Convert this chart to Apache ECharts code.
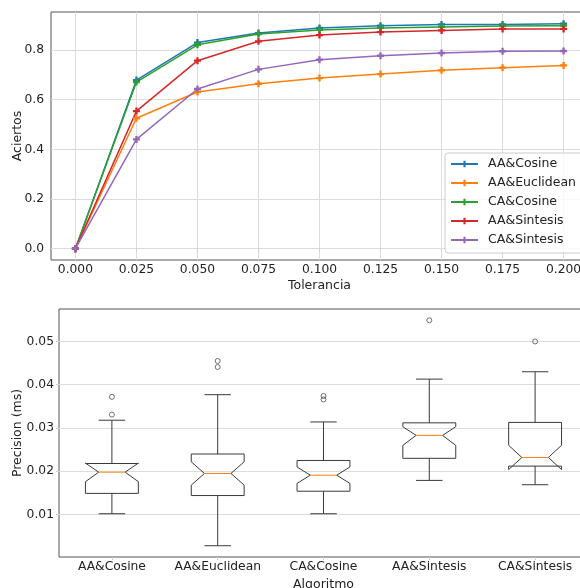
<!DOCTYPE html>
<html>
<head>
<meta charset="utf-8">
<script src="https://cdn.jsdelivr.net/npm/echarts@6/dist/echarts.min.js"></script>
<style>
  html, body { margin: 0; padding: 0; background: #fff; }
  #chart { width: 580px; height: 588px; }
</style>
</head>
<body>
<div id="chart"></div>
<script>
// top panel: hit rate vs tolerance
let tolerance = [0, 0.025, 0.05, 0.075, 0.1, 0.125, 0.15, 0.175, 0.2];
let aaCosine    = [0, 0.679, 0.830, 0.868, 0.889, 0.898, 0.903, 0.903, 0.906];
let aaEuclidean = [0, 0.525, 0.631, 0.664, 0.687, 0.703, 0.718, 0.729, 0.738];
let caCosine    = [0, 0.671, 0.821, 0.864, 0.881, 0.889, 0.893, 0.897, 0.898];
let aaSintesis  = [0, 0.554, 0.757, 0.835, 0.860, 0.872, 0.879, 0.885, 0.885];
let caSintesis  = [0, 0.440, 0.643, 0.722, 0.761, 0.777, 0.788, 0.795, 0.796];
let lineNames = ['AA&Cosine', 'AA&Euclidean', 'CA&Cosine', 'AA&Sintesis', 'CA&Sintesis'];
let xTicks = [0, 0.025, 0.05, 0.075, 0.1, 0.125, 0.15, 0.175, 0.2];
let yTicks = [0, 0.2, 0.4, 0.6, 0.8];

// bottom panel: notched boxplots
let algorithms  = ['AA&Cosine', 'AA&Euclidean', 'CA&Cosine', 'AA&Sintesis', 'CA&Sintesis'];
let whiskerLow  = [0.0102, 0.0028, 0.0102, 0.0179, 0.0169];
let q1          = [0.0149, 0.0144, 0.0154, 0.0230, 0.0212];
let notchLow    = [0.0176, 0.0168, 0.0172, 0.0260, 0.0204];
let median      = [0.0198, 0.0195, 0.0191, 0.0283, 0.0232];
let notchHigh   = [0.0219, 0.0222, 0.0210, 0.0303, 0.0260];
let q3          = [0.0218, 0.0240, 0.0225, 0.0312, 0.0313];
let whiskerHigh = [0.0318, 0.0377, 0.0314, 0.0413, 0.0430];
let outliers = [
    ['AA&Cosine', 0.0372], ['AA&Cosine', 0.0331],
    ['AA&Euclidean', 0.0455], ['AA&Euclidean', 0.0441],
    ['CA&Cosine', 0.0374], ['CA&Cosine', 0.0366],
    ['AA&Sintesis', 0.0549],
    ['CA&Sintesis', 0.0500]
];
let precTicks = [0.01, 0.02, 0.03, 0.04, 0.05];

let colors = ['#1f77b4', '#ff7f0e', '#2ca02c', '#d62728', '#9467bd'];
let lineData = [aaCosine, aaEuclidean, caCosine, aaSintesis, caSintesis];
let font = 'DejaVu Sans';
let plusPath = 'path://M1,0H2V1H3V2H2V3H1V2H0V1H1Z';

let myChart = echarts.init(document.getElementById('chart'));

let lineSeries = lineNames.map(function (name, k) {
    return {
        name: name,
        type: 'line',
        xAxisIndex: 0,
        yAxisIndex: 0,
        data: tolerance.map(function (t, i) { return [t, lineData[k][i]]; }),
        symbol: plusPath,
        symbolSize: 7,
        color: colors[k],
        lineStyle: { width: 1.5 },
        emphasis: { disabled: true },
        animation: false
    };
});

let boxData = algorithms.map(function (a, i) {
    return [i, whiskerLow[i], q1[i], notchLow[i], median[i], notchHigh[i], q3[i], whiskerHigh[i]];
});

function renderBox(params, api) {
    let i = api.value(0);
    let band = api.size([1, 0])[0];
    let w = band * 0.25;
    let x = api.coord([i, 0])[0];
    let y = function (v) { return api.coord([i, v])[1]; };
    let lo = y(api.value(1)), b1 = y(api.value(2)), nl = y(api.value(3)),
        md = y(api.value(4)), nh = y(api.value(5)), b3 = y(api.value(6)), hi = y(api.value(7));
    let stroke = { stroke: '#3a3a3a', lineWidth: 1, fill: null };
    return {
        type: 'group',
        children: [
            { type: 'polygon', shape: { points: [
                [x - w, b1], [x + w, b1], [x + w, nl], [x + w / 2, md], [x + w, nh], [x + w, b3],
                [x - w, b3], [x - w, nh], [x - w / 2, md], [x - w, nl]
            ] }, style: stroke },
            { type: 'line', shape: { x1: x, y1: b1, x2: x, y2: lo }, style: stroke },
            { type: 'line', shape: { x1: x, y1: b3, x2: x, y2: hi }, style: stroke },
            { type: 'line', shape: { x1: x - w / 2, y1: lo, x2: x + w / 2, y2: lo }, style: stroke },
            { type: 'line', shape: { x1: x - w / 2, y1: hi, x2: x + w / 2, y2: hi }, style: stroke },
            { type: 'line', shape: { x1: x - w / 2, y1: md, x2: x + w / 2, y2: md },
              style: { stroke: '#ff7f0e', lineWidth: 1 } }
        ]
    };
}

let gridLine = { show: true, lineStyle: { color: '#dcdcdc', width: 1 } };
let tick = { show: true, length: 3, lineStyle: { color: '#cfcfcf' } };

let option = {
    animation: false,
    textStyle: { fontFamily: font },
    grid: [
        { left: 51, top: 12, width: 537, height: 248, show: true, borderColor: '#555', borderWidth: 1,
          backgroundColor: 'transparent', outerBoundsMode: 'none', containLabel: false },
        { left: 59, top: 309, width: 529, height: 248, show: true, borderColor: '#555', borderWidth: 1,
          backgroundColor: 'transparent', outerBoundsMode: 'none', containLabel: false }
    ],
    legend: {
        data: lineNames,
        orient: 'vertical',
        left: 445,
        top: 153,
        padding: [4, 30, 6, 5],
        itemWidth: 27,
        itemHeight: 8,
        itemGap: 5,
        backgroundColor: 'rgba(255,255,255,0.8)',
        borderColor: '#cccccc',
        borderWidth: 1,
        borderRadius: 3,
        textStyle: { fontFamily: font, fontSize: 12.5, color: '#222', lineHeight: 14, padding: [0, 0, 0, 5] }
    },
    xAxis: [
        {
            type: 'value', gridIndex: 0, min: -0.01, max: 0.21,
            name: 'Tolerancia', nameLocation: 'middle', nameGap: 19, nameMoveOverlap: false,
            nameTextStyle: { fontFamily: font, fontSize: 12.5, color: '#222' },
            axisLine: { show: false },
            axisTick: Object.assign({ customValues: xTicks }, tick),
            axisLabel: { customValues: xTicks, margin: 4, fontFamily: font, fontSize: 12.3, color: '#222',
                formatter: function (v) { return v.toFixed(3); } },
            splitLine: gridLine
        },
        {
            type: 'category', gridIndex: 1, data: algorithms, boundaryGap: true,
            name: 'Algoritmo', nameLocation: 'middle', nameGap: 21, nameMoveOverlap: false,
            nameTextStyle: { fontFamily: font, fontSize: 12.5, color: '#222' },
            axisLine: { show: false },
            axisTick: Object.assign({ alignWithLabel: true }, tick),
            axisLabel: { margin: 4, fontFamily: font, fontSize: 12.3, color: '#222', interval: 0 },
            splitLine: { show: false }
        }
    ],
    yAxis: [
        {
            type: 'value', gridIndex: 0, min: -0.0455, max: 0.953,
            name: 'Aciertos', nameLocation: 'middle', nameGap: 27, nameMoveOverlap: false,
            nameTextStyle: { fontFamily: font, fontSize: 12.5, color: '#222' },
            axisLine: { show: false },
            axisTick: Object.assign({ customValues: yTicks }, tick),
            axisLabel: { customValues: yTicks, margin: 7, fontFamily: font, fontSize: 12.3, color: '#222',
                formatter: function (v) { return v.toFixed(1); } },
            splitLine: gridLine
        },
        {
            type: 'value', gridIndex: 1, min: 0.0002, max: 0.0575,
            name: 'Precision (ms)', nameLocation: 'middle', nameGap: 35, nameMoveOverlap: false,
            nameTextStyle: { fontFamily: font, fontSize: 12.5, color: '#222' },
            axisLine: { show: false },
            axisTick: Object.assign({ customValues: precTicks }, tick),
            axisLabel: { customValues: precTicks, margin: 5, fontFamily: font, fontSize: 12.3, color: '#222',
                formatter: function (v) { return v.toFixed(2); } },
            splitLine: gridLine
        }
    ],
    series: lineSeries.concat([
        {
            type: 'custom',
            xAxisIndex: 1,
            yAxisIndex: 1,
            data: boxData,
            encode: { x: 0, y: [1, 2, 3, 4, 5, 6, 7] },
            renderItem: renderBox,
            z: 3
        },
        {
            type: 'scatter',
            xAxisIndex: 1,
            yAxisIndex: 1,
            data: outliers,
            symbol: 'circle',
            symbolSize: 5,
            itemStyle: { color: 'transparent', borderColor: '#3a3a3a', borderWidth: 0.9 },
            emphasis: { disabled: true },
            z: 4
        }
    ])
};

myChart.setOption(option);
</script>
</body>
</html>
